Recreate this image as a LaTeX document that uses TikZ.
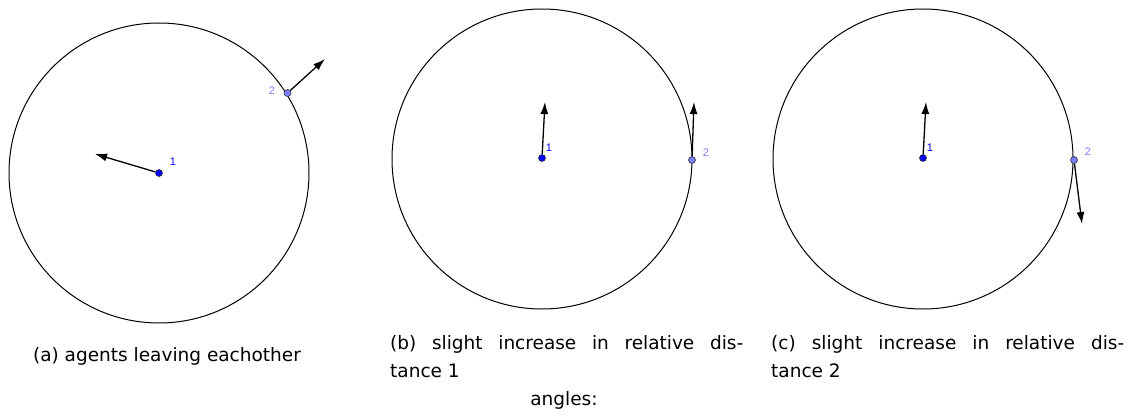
\documentclass[tikz,border=0pt]{standalone}
\usepackage{fontspec}
\setmainfont{Liberation Sans}
\newfontfamily\capfont{DejaVu Sans}
\usetikzlibrary{positioning, arrows.meta}
\definecolor{agentone}{RGB}{0,0,255}
\definecolor{agenttwo}{RGB}{125,125,255}

\begin{document}
\begin{tikzpicture}[
                x=1pt, y=-1pt,
                >={Latex[length=12pt, width=8pt]},
                ring/.style={draw, line width=1pt},
                agentA/.style={circle, draw=black!80, fill=agentone, minimum size=7pt, inner sep=0pt, line width=0.6pt},
                agentB/.style={circle, draw=black!80, fill=agenttwo, minimum size=7pt, inner sep=0pt, line width=0.6pt},
                vel/.style={->, line width=1.3pt},
                lblA/.style={text=agentone, font=\fontsize{11}{13}\selectfont, inner sep=0pt},
                lblB/.style={text=agenttwo, font=\fontsize{11}{13}\selectfont, inner sep=0pt},
                caption/.style={align=left, font=\capfont\fontsize{18.5}{28}\selectfont, inner sep=0pt},
                subcap/.style={caption, anchor=west, text width=353pt, align=justify}
            ]
            \useasboundingbox (0,0) rectangle (1128,417);
            % circles
            \draw[ring] (159,173) circle (150);
            \draw[ring] (542,159) circle (150);
            \draw[ring] (923,159) circle (150);

            % agents (a)
            \node[agentA] (a1) at (159,173) {};
            \node[agentB] (a2) at (287.5,93) {};
            \node[lblA] (la1) at (173,162) {1};
            \node[lblB] (la2) at (272,91) {2};
            \coordinate (va1) at (95,154);
            \coordinate (va2) at (325,59);
            % agents (b)
            \node[agentA] (b1) at (542,158) {};
            \node[agentB] (b2) at (692,160) {};
            \node[lblA] (lb1) at (549,148) {1};
            \node[lblB] (lb2) at (706,153) {2};
            \coordinate (vb1) at (545,102);
            \coordinate (vb2) at (694,102);
            % agents (c)
            \node[agentA] (c1) at (923,158) {};
            \node[agentB] (c2) at (1074,160) {};
            \node[lblA] (lc1) at (930,148) {1};
            \node[lblB] (lc2) at (1088,152) {2};
            \coordinate (vc1) at (926,102);
            \coordinate (vc2) at (1082,224);

            % velocities
            \draw[vel] (a1) -- (va1);
            \draw[vel] (a2) -- (va2);
            \draw[vel] (b1) -- (vb1);
            \draw[vel] (b2) -- (vb2);
            \draw[vel] (c1) -- (vc1);
            \draw[vel] (c2) -- (vc2);

            % captions
            \node[caption] (capa) at (167,356) {(a) agents leaving eachother};
            \node[subcap] (capb) at (390,357) {(b) slight increase in relative dis-\linebreak tance 1};
            \node[subcap] (capc) at (771,357) {(c) slight increase in relative dis-\linebreak tance 2};
            \node[caption] (angles) at (564,400) {angles:};
\end{tikzpicture}
\end{document}
